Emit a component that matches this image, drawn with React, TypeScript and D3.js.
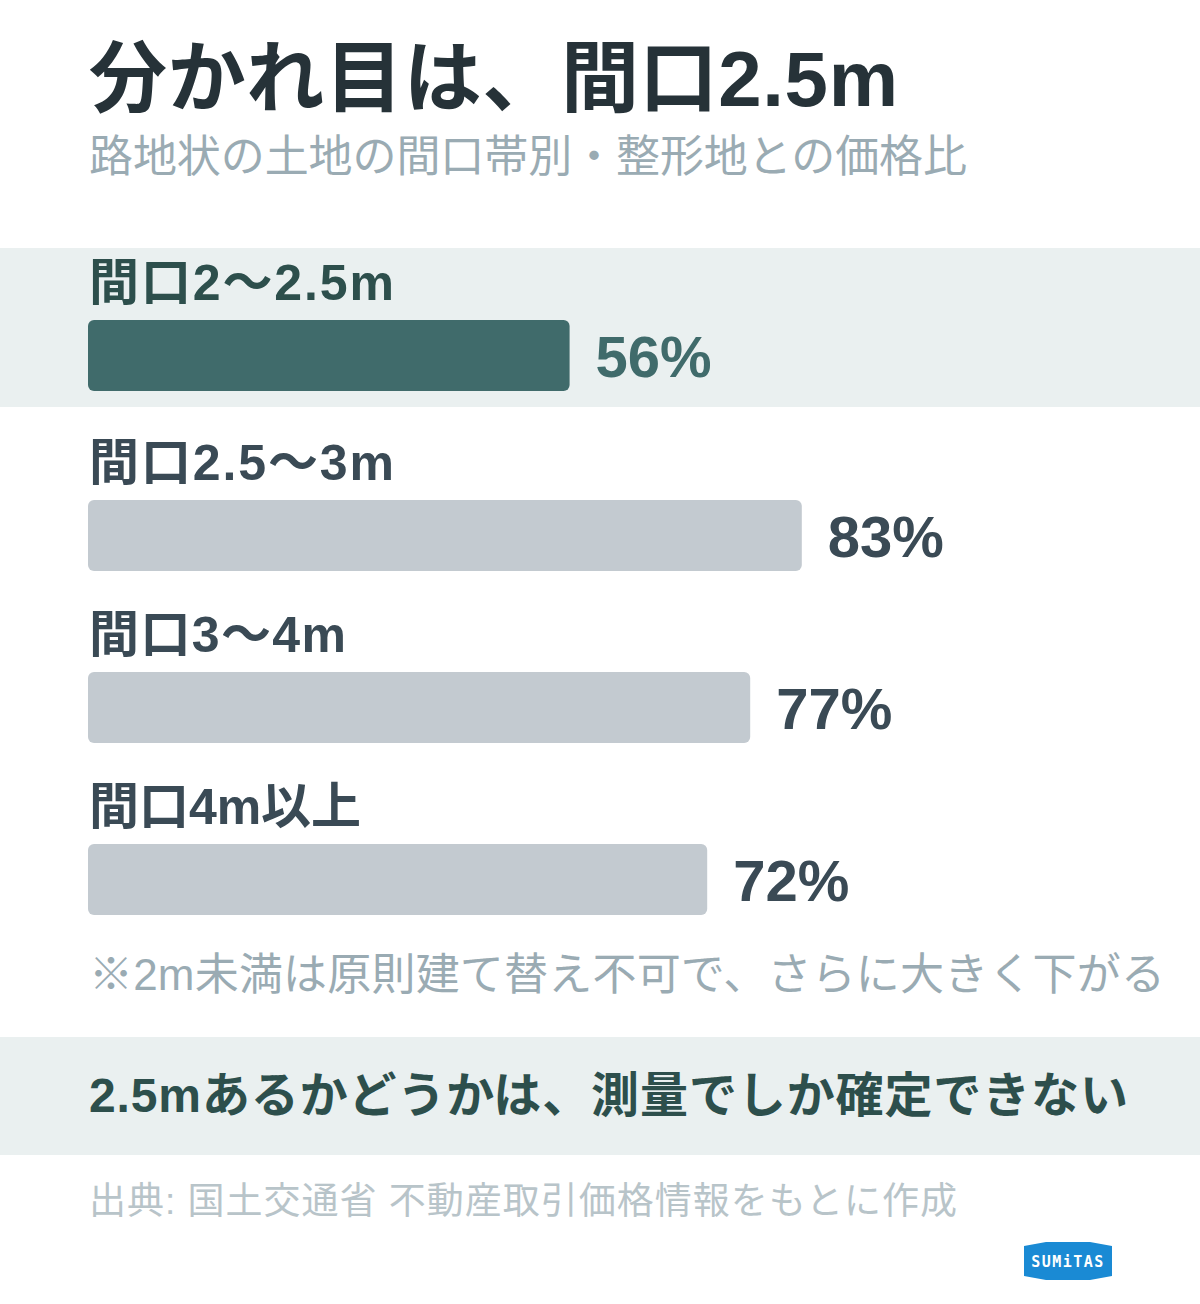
import React, { useEffect } from "react";
import * as d3 from "d3";

const categories = ["間口2〜2.5m", "間口2.5〜3m", "間口3〜4m", "間口4m以上"];
const values = [56, 83, 77, 72];
const highlighted = [true, false, false, false];

const title = "分かれ目は、間口2.5m";
const subtitle = "路地状の土地の間口帯別・整形地との価格比";
const note = "※2m未満は原則建て替え不可で、さらに大きく下がる";
const callout = "2.5mあるかどうかは、測量でしか確定できない";
const source = "出典: 国土交通省 不動産取引価格情報をもとに作成";

const labelWidths = [305, 305, 257, 272];

const FONT = "'Liberation Sans', 'Noto Sans CJK JP', sans-serif";

export default function App() {
  useEffect(() => {
    document.body.style.margin = "0";
  }, []);

  const W = 1200;
  const H = 1304;
  const x = d3.scaleLinear().domain([0, 100]).range([88, 948]);
  const barTops = [320, 500, 672, 844];
  const barH = 71;

  return (
    <svg width={W} height={H} viewBox={`0 0 ${W} ${H}`} style={{ display: "block", background: "#fff" }} fontFamily={FONT}>
      <rect x={0} y={0} width={W} height={H} fill="#ffffff" />
      <text x={89} y={106} fontSize={78} fontWeight={700} fill="#263238" textLength={809}>{title}</text>
      <text x={89} y={172} fontSize={44} fill="#9aabb3" textLength={878}>{subtitle}</text>

      <rect x={0} y={248} width={W} height={159} fill="#eaf0f0" />

      {categories.map((c, i) => {
        const top = barTops[i];
        const hl = highlighted[i];
        const w = x(values[i]) - x(0);
        return (
          <g key={c}>
            <text x={89} y={top - 20} fontSize={50} fontWeight={700} fill={hl ? "#2d4f4c" : "#3a4a55"} textLength={labelWidths[i]}>{c}</text>
            <rect x={x(0)} y={top} width={w} height={barH} rx={6} fill={hl ? "#406b6b" : "#c3cad0"} />
            <text x={x(values[i]) + 26} y={top + 57} fontSize={58} fontWeight={700} fill={hl ? "#406b6b" : "#3a4a55"}>{values[i]}%</text>
          </g>
        );
      })}

      <text x={89} y={990} fontSize={44} fill="#9aabb3" textLength={1076}>{note}</text>

      <rect x={0} y={1037} width={W} height={118} fill="#eaf0f0" />
      <text x={89} y={1112} fontSize={48} fontWeight={700} fill="#2d4f4c" textLength={1039}>{callout}</text>

      <text x={89} y={1214} fontSize={37} fill="#b8c4c9" textLength={868}>{source}</text>

      <g transform="translate(1024,1242)">
        <path d="M0,4 L22,0 L66,0 L88,4 L88,34 L66,38 L22,38 L0,34 Z" fill="#1a8ad4" />
        <text x={44} y={25} fontSize={15} fontWeight={700} fill="#ffffff" textAnchor="middle" letterSpacing={1.5} fontFamily="'DejaVu Sans Mono', monospace">SUMiTAS</text>
      </g>
    </svg>
  );
}
